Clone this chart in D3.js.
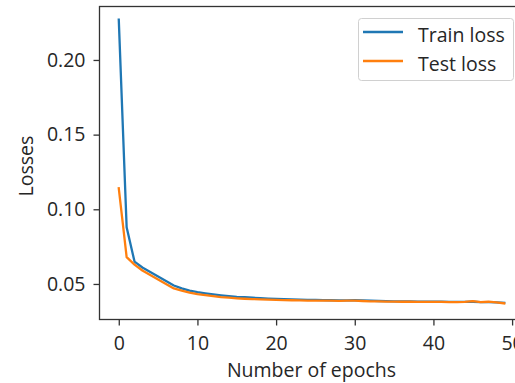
<!DOCTYPE html>
<html><head><meta charset="utf-8">
<script src="https://cdn.jsdelivr.net/npm/d3@7"></script>
<style>body{margin:0;background:#fff}svg{display:block}text{font-family:"Open Sans",sans-serif;fill:#262626}</style>
</head><body>
<script>
const epochs = d3.range(0, 50);
const trainLoss = [0.227,0.088,0.065,0.061,0.058,0.055,0.052,0.049,0.047,0.0455,
 0.0445,0.0437,0.0430,0.0424,0.0419,0.0414,0.0411,0.0408,0.0405,0.0402,
 0.0400,0.0398,0.0396,0.0395,0.0394,0.0393,0.0392,0.0391,0.0390,0.0390,
 0.0391,0.0390,0.0388,0.0386,0.0385,0.0384,0.0383,0.0383,0.0382,0.0382,
 0.0381,0.0381,0.0380,0.0380,0.0380,0.0381,0.0379,0.0379,0.0377,0.0374];
const testLoss = [0.114,0.068,0.063,0.059,0.056,0.053,0.050,0.047,0.0455,0.0442,
 0.0432,0.0425,0.0418,0.0412,0.0408,0.0404,0.0401,0.0399,0.0397,0.0395,
 0.0393,0.0392,0.0391,0.0390,0.0389,0.0389,0.0388,0.0388,0.0387,0.0388,
 0.0389,0.0386,0.0384,0.0383,0.0382,0.0382,0.0381,0.0381,0.0380,0.0380,
 0.0380,0.0380,0.0379,0.0379,0.0380,0.0385,0.0378,0.0381,0.0376,0.0370];
const xTicks = [0,10,20,30,40,50];
const yTicks = [0.05,0.10,0.15,0.20];
const seriesNames = ["Train loss","Test loss"];
const colors = ["#1f77b4","#ff7f0e"];

const W=515,H=383, FS=19.5;
const L=99.5, R=523.5, T=6.5, B=319.5;
const svg=d3.select("body").append("svg").attr("width",W).attr("height",H);
const x=d3.scaleLinear().domain([-2.45,51.45]).range([L,R]);
const y=d3.scaleLinear().domain([0.0262,0.2358]).range([B,T]);

const line=d3.line().x((d,i)=>x(epochs[i])).y(d=>y(d));
[trainLoss,testLoss].forEach((s,k)=>{
  svg.append("path").datum(s).attr("d",line).attr("fill","none")
    .attr("stroke",colors[k]).attr("stroke-width",2.3).attr("stroke-linejoin","round").attr("stroke-linecap","square");
});

// spines
svg.append("rect").attr("x",L).attr("y",T).attr("width",R-L).attr("height",B-T)
  .attr("fill","none").attr("stroke","#333").attr("stroke-width",1.3);

const xa=svg.append("g").attr("transform",`translate(0,${B})`)
  .call(d3.axisBottom(x).tickValues(xTicks).tickFormat(d3.format("d")).tickSize(6).tickPadding(11));
const ya=svg.append("g").attr("transform",`translate(${L},0)`)
  .call(d3.axisLeft(y).tickValues(yTicks).tickFormat(d3.format(".2f")).tickSize(6).tickPadding(8));
[xa,ya].forEach(a=>{
  a.select(".domain").remove();
  a.selectAll(".tick line").attr("stroke","#333").attr("stroke-width",1.3);
  a.selectAll(".tick text").attr("font-size",FS).attr("fill","#262626").style("font-family","Open Sans");
});

svg.append("text").attr("x",(226+397)/2).attr("y",377).attr("text-anchor","middle")
  .attr("font-size",FS).text("Number of epochs");
svg.append("text").attr("transform","translate(33,166) rotate(-90)").attr("text-anchor","middle")
  .attr("font-size",FS).text("Losses");

// legend
const lg=svg.append("g");
lg.append("rect").attr("x",358.5).attr("y",18.5).attr("width",155).attr("height",62).attr("rx",3)
  .attr("fill","#fff").attr("fill-opacity",0.8).attr("stroke","#d0d0d0").attr("stroke-width",1);
seriesNames.forEach((n,k)=>{
  const yy=32+k*29;
  lg.append("line").attr("x1",363).attr("x2",403).attr("y1",yy).attr("y2",yy)
    .attr("stroke",colors[k]).attr("stroke-width",2.3);
  lg.append("text").attr("x",418).attr("y",yy+9.5).attr("font-size",FS).text(n);
});
</script>
</body></html>
